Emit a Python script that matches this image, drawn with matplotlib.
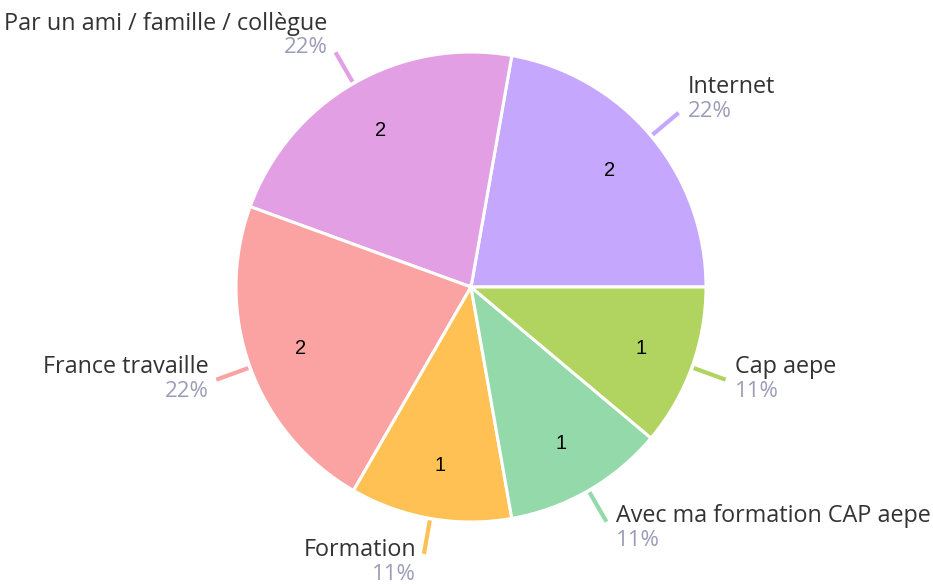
import numpy as np
import matplotlib.pyplot as plt

labels = ['Internet', 'Par un ami / famille / collègue', 'France travaille',
          'Formation', 'Avec ma formation CAP aepe', 'Cap aepe']
counts = [2, 2, 2, 1, 1, 1]
colors = ['#c5a8fd', '#e29fe3', '#fba3a3', '#ffc153', '#93d9aa', '#b1d35f']

W, H = 933, 584
cx, cy, R = 471, H - 287, 235

fig = plt.figure(figsize=(W / 100, H / 100), dpi=100)
ax = fig.add_axes([0, 0, 1, 1])

wedges, _, autotexts = ax.pie(counts, colors=colors, startangle=0, counterclock=True,
                              center=(cx, cy), radius=R,
                              autopct=lambda p: '%d' % round(p * sum(counts) / 100),
                              pctdistance=0.77,
                              wedgeprops=dict(edgecolor='white', linewidth=2.2),
                              textprops=dict(fontsize=14.5, color='black',
                                             family='Liberation Sans'))
ax.set_xlim(0, W)
ax.set_ylim(0, H)
ax.axis('off')

total = sum(counts)
for w, lab, n, col in zip(wedges, labels, counts, colors):
    ang = np.deg2rad((w.theta1 + w.theta2) / 2)
    c, s = np.cos(ang), np.sin(ang)
    x0, y0 = cx + (R + 2) * c, cy + (R + 2) * s
    x1, y1 = cx + (R + 36) * c, cy + (R + 36) * s
    ax.plot([x0, x1], [y0, y1], color=col, lw=3, solid_capstyle='butt')
    ha = 'left' if c > 0 else 'right'
    tx = x1 + (9 if c > 0 else -8)
    mid = y1 + 5 + 13.5 * s
    ax.text(tx, mid + 12, lab, ha=ha, va='center', fontsize=16.8, color='#333333',
            family='Open Sans')
    ax.text(tx, mid - 12, '%d%%' % round(100 * n / total), ha=ha, va='center',
            fontsize=16, color='#9c9cb8', family='Open Sans')

fig.savefig('out.png', dpi=100)
